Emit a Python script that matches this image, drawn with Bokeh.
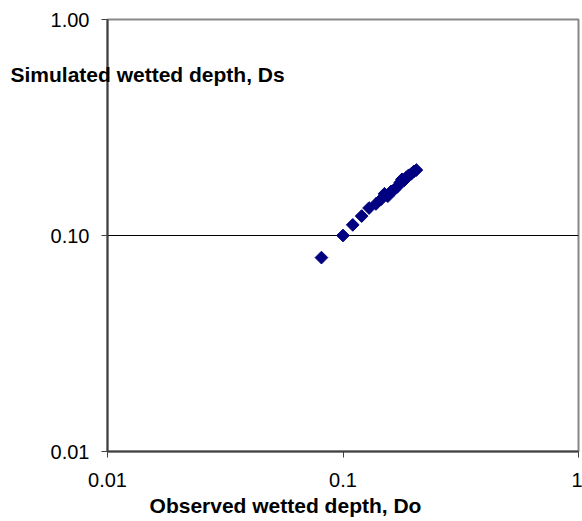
import math
from bokeh.plotting import figure
from bokeh.models import Range1d, FixedTicker, Label, ColumnDataSource
from bokeh.embed import file_html
from bokeh.resources import INLINE

# Data (observed vs simulated wetted depth)
observed = [0.081, 0.100, 0.110, 0.120, 0.129, 0.138, 0.145, 0.150, 0.155, 0.160,
            0.165, 0.170, 0.175, 0.178, 0.182, 0.186, 0.190, 0.195, 0.200, 0.205]
simulated = [0.079, 0.100, 0.112, 0.123, 0.134, 0.140, 0.147, 0.156, 0.152, 0.160,
             0.163, 0.168, 0.176, 0.182, 0.180, 0.186, 0.190, 0.193, 0.198, 0.201]

x_ticks = [0.01, 0.1, 1]
x_tick_labels = ["0.01", "0.1", "1"]
y_ticks = [0.01, 0.1, 1]
y_tick_labels = ["0.01", "0.10", "1.00"]

x_title = "Observed wetted depth, Do"
y_title = "Simulated wetted depth, Ds"

FONT = "Liberation Sans"

p = figure(width=582, height=525, x_axis_type="log", y_axis_type="log",
           x_range=Range1d(0.01, 1), y_range=Range1d(0.01, 1),
           output_backend="svg", toolbar_location=None,
           min_border_left=107, min_border_right=4,
           min_border_top=0, min_border_bottom=70)
p.styles = {"margin-top": "-4px"}

p.background_fill_color = "white"
p.border_fill_color = "white"
p.outline_line_color = "#888888"
p.outline_line_width = 2

# Axes
for ax, ticks, labels in ((p.xaxis[0], x_ticks, x_tick_labels), (p.yaxis[0], y_ticks, y_tick_labels)):
    ax.ticker = FixedTicker(ticks=ticks, minor_ticks=[])
    ax.major_label_overrides = {t: l for t, l in zip(ticks, labels)}
    ax.axis_line_color = "#404040"
    ax.axis_line_width = 2
    ax.major_tick_line_color = "#404040"
    ax.major_tick_line_width = 1
    ax.major_tick_out = 6
    ax.major_tick_in = 0
    ax.minor_tick_line_color = None
    ax.major_label_text_font = FONT
    ax.major_label_text_font_size = "20px"
    ax.major_label_text_color = "black"
    ax.major_label_standoff = 12
p.xaxis[0].major_label_standoff = 15

# Grid: only the horizontal line at 0.10
p.xgrid.grid_line_color = None
p.ygrid.ticker = FixedTicker(ticks=[0.1], minor_ticks=[])
p.ygrid.grid_line_color = "black"
p.ygrid.grid_line_width = 1

src = ColumnDataSource(dict(x=observed, y=simulated))
p.scatter("x", "y", source=src, marker="square", size=9, angle=math.pi / 4,
          fill_color="#000080", line_color="#000080", line_width=1)

# Axis titles placed like the original (side panels, so they are not clipped)
p.add_layout(Label(x=-97, y=-55, x_units="screen", y_units="screen", text=y_title,
                   text_font=FONT, text_font_size="21px", text_font_style="bold",
                   text_align="left", text_baseline="middle", text_color="black"), "above")
p.add_layout(Label(x=178, y=7, x_units="screen", y_units="screen", text=x_title,
                   text_font=FONT, text_font_size="21px", text_font_style="bold",
                   text_align="center", text_baseline="middle", text_color="black"), "below")

open("out.html", "w").write(file_html(p, INLINE))
